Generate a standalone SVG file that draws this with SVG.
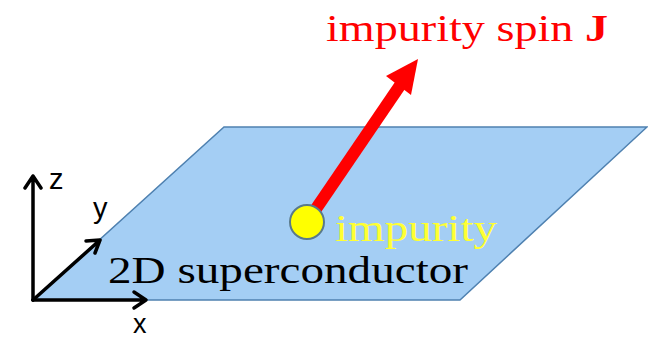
<svg xmlns="http://www.w3.org/2000/svg" width="648" height="341" viewBox="0 0 648 341">
<style>
.serif{font-family:"Liberation Serif","DejaVu Serif",serif}
.sans{font-family:"Liberation Sans","DejaVu Sans",sans-serif}
.ax{stroke:#000;stroke-width:3.5;fill:none;stroke-linecap:round;stroke-linejoin:round}
</style>
<g id="plane">
<polygon points="33,300 224,127 647,127 460,300" fill="#a4cef4" stroke="#4f81b0" stroke-width="1.5"/>
</g>
<g id="axes">
<path class="ax" d="M33,300 V176 M25,188 L33,176 L41,188"/>
<path class="ax" d="M33,300 L100,240 M86,241 L100,240 L95,253"/>
<path class="ax" d="M33,300 H146 M134,292 L146,300 L134,308"/>
<text class="sans" x="49" y="189" font-size="29">z</text>
<text class="sans" x="93" y="218" font-size="29">y</text>
<text class="sans" x="133" y="333" font-size="27">x</text>
</g>
<g id="connectors">
<line x1="307" y1="222" x2="401" y2="84" stroke="#ff0000" stroke-width="12"/>
<polygon points="418,59 386,76 411,95" fill="#ff0000"/>
</g>
<g id="impurity">
<circle cx="307" cy="222" r="17" fill="#ffff00" stroke="#5a7a8a" stroke-width="2"/>
<text class="serif" x="335" y="241" font-size="37" fill="#ffff33" textLength="162" lengthAdjust="spacingAndGlyphs">impurity</text>
</g>
<g id="labels">
<text class="serif" x="108" y="283" font-size="38" fill="#000" textLength="360" lengthAdjust="spacingAndGlyphs">2D superconductor</text>
<text class="serif" x="326" y="41" font-size="38" fill="#ff0000" textLength="282" lengthAdjust="spacingAndGlyphs">impurity spin <tspan font-weight="bold">J</tspan></text>
</g>
</svg>
